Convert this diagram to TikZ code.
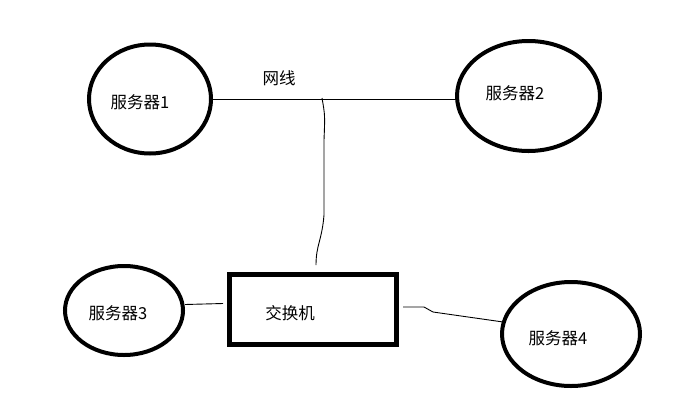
\documentclass[tikz,border=0pt]{standalone}
\usepackage{fontspec}
\setmainfont{Noto Sans CJK SC}
\usetikzlibrary{shapes.geometric}

\begin{document}
\begin{tikzpicture}
            [x=1pt,y=-1pt,
            server/.style={ellipse,draw,line width=4pt,inner sep=0pt},
            box/.style={rectangle,draw,line width=5pt,inner sep=0pt},
            tag/.style={font=\fontsize{16.5}{19}\selectfont},
            wire/.style={line width=0.9pt}]
            \useasboundingbox (0,0) rectangle (687,402);
            % servers
            \node[server,minimum width=122,minimum height=109,
                label={[tag,xshift=-10pt,yshift=-3.5pt]center:服务器1}] (s1) at (150,99) {};
            \node[server,minimum width=143,minimum height=110,
                label={[tag,xshift=-13.5pt,yshift=3pt]center:服务器2}] (s2) at (528.5,96) {};
            \node[server,minimum width=118,minimum height=89,
                label={[tag,xshift=-6pt,yshift=-2.5pt]center:服务器3}] (s3) at (124,310.5) {};
            \node[server,minimum width=138,minimum height=104,
                label={[tag,xshift=-13pt,yshift=-4pt]center:服务器4}] (s4) at (571,334) {};
            % switch
            \node[box,minimum width=167,minimum height=70,
                label={[tag,xshift=-23pt,yshift=-3.5pt]center:交换机}] (sw) at (313,309.5) {};
            \node[tag] (wl) at (279,78) {网线};
            % cables
            \coordinate (tap) at (322,98);
            \coordinate (drop) at (316,265);
            \draw[wire] (s1.east) -- (s1.east -| s2.west);
            \draw[wire] (tap) .. controls (325,115) .. (324,140) -- (324,215)
                .. controls (322,240) and (316,245) .. (drop);
            \draw[wire] ([yshift=6pt]s3.east) -- ([yshift=6pt,xshift=-4pt]sw.west);
            \draw[wire] ([yshift=2.5pt,xshift=4pt]sw.east) -- ++(21,0) -- ++(9,5) -- (s4.170);
\end{tikzpicture}
\end{document}
